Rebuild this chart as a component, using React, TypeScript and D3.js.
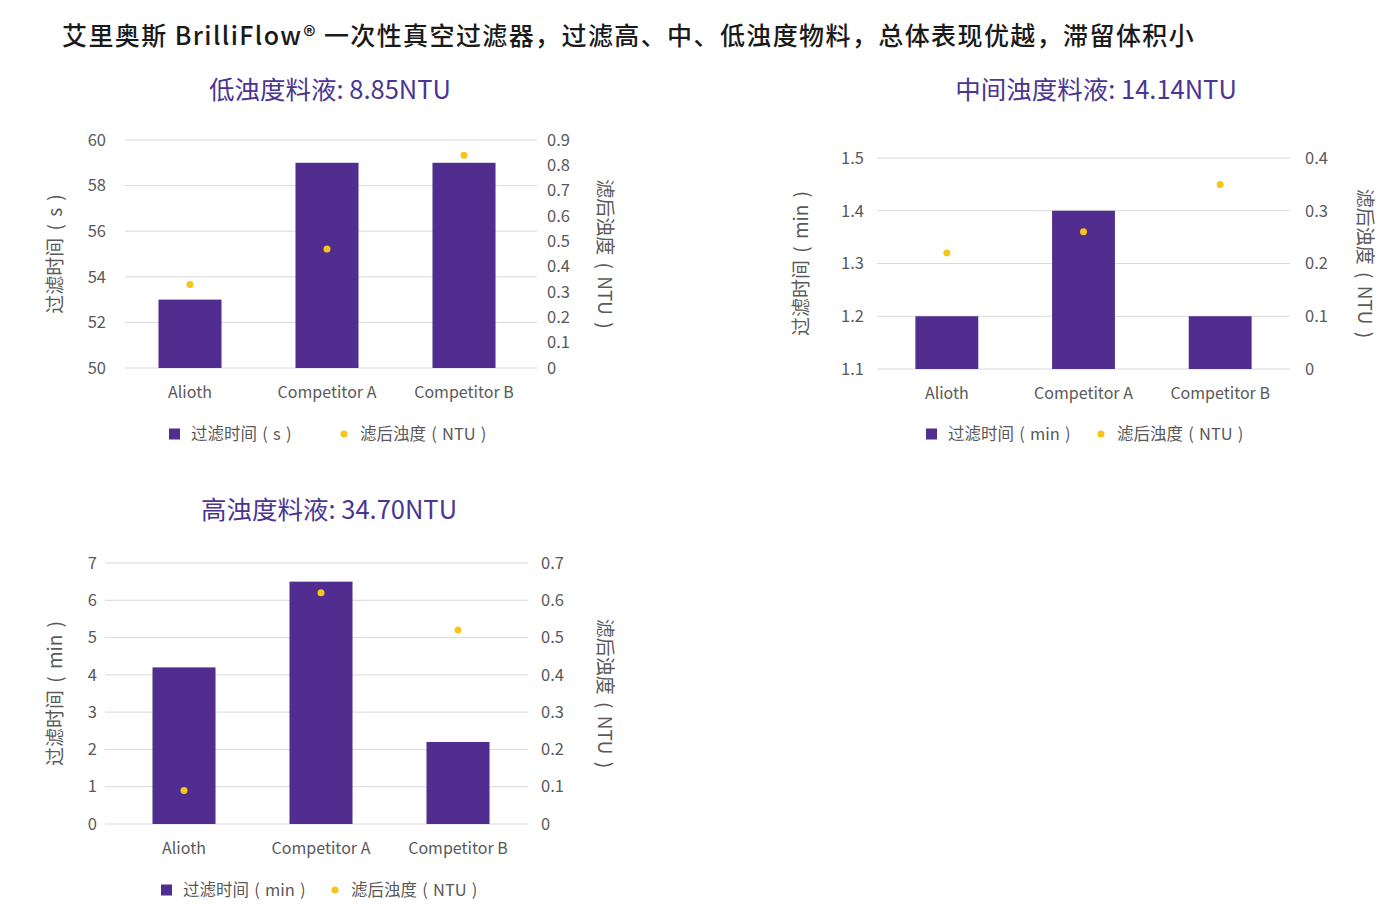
import React from "react";
import * as d3 from "d3";

const categories = ["Alioth", "Competitor A", "Competitor B"];

// 低浊度
const lowTime = [53, 59, 59];
const lowTurb = [0.33, 0.47, 0.84];
// 中间浊度
const midTime = [1.2, 1.4, 1.2];
const midTurb = [0.22, 0.26, 0.35];
// 高浊度
const highTime = [4.2, 6.5, 2.2];
const highTurb = [0.09, 0.62, 0.52];

const lowLeftTicks = [50, 52, 54, 56, 58, 60];
const lowRightTicks = [0, 0.1, 0.2, 0.3, 0.4, 0.5, 0.6, 0.7, 0.8, 0.9];
const midLeftTicks = [1.1, 1.2, 1.3, 1.4, 1.5];
const midRightTicks = [0, 0.1, 0.2, 0.3, 0.4];
const highLeftTicks = [0, 1, 2, 3, 4, 5, 6, 7];
const highRightTicks = [0, 0.1, 0.2, 0.3, 0.4, 0.5, 0.6, 0.7];

const mainTitle = "艾里奥斯 BrilliFlow® 一次性真空过滤器，过滤高、中、低浊度物料，总体表现优越，滞留体积小";

const FONT = "'Noto Sans CJK SC', 'Noto Sans', sans-serif";
const BAR = "#502d8f";
const DOT = "#f5c518";
const PURPLE = "#4b3593";
const GREY = "#595959";

const fmt = (d: number) => (d === 0 ? "0" : String(d));

type Props = {
  title: string;
  unit: string;
  time: number[];
  turb: number[];
  leftTicks: number[];
  rightTicks: number[];
  // layout
  titleX: number;
  titleY: number;
  gridX: [number, number];
  bandX: [number, number];
  yRange: [number, number];
  catY: number;
  legendX: number;
  legendY: number;
  dotLegendX: number;
  leftTitleX: number;
  rightTitleX: number;
  rightLabelX: number;
  leftLabelX: number;
};

const Panel = (p: Props) => {
  const x = d3
    .scaleBand<string>()
    .domain(categories)
    .range(p.bandX)
    .paddingInner(0.54)
    .paddingOuter(0.27);
  const yL = d3
    .scaleLinear()
    .domain([p.leftTicks[0], p.leftTicks[p.leftTicks.length - 1]])
    .range(p.yRange);
  const yR = d3
    .scaleLinear()
    .domain([p.rightTicks[0], p.rightTicks[p.rightTicks.length - 1]])
    .range(p.yRange);
  const midY = (p.yRange[0] + p.yRange[1]) / 2;

  return (
    <g fontFamily={FONT}>
      <text x={p.titleX} y={p.titleY} textAnchor="middle" fontSize={25.5} fill={PURPLE}>
        {p.title}
      </text>
      {p.leftTicks.map((t) => (
        <g key={"l" + t}>
          <line x1={p.gridX[0]} x2={p.gridX[1]} y1={yL(t)} y2={yL(t)} stroke="#d9d9d9" strokeWidth={1} />
          <text x={p.leftLabelX} y={yL(t)} dy="0.35em" textAnchor="end" fontSize={16.5} fill={GREY}>
            {fmt(t)}
          </text>
        </g>
      ))}
      {p.rightTicks.map((t) => (
        <text key={"r" + t} x={p.rightLabelX} y={yR(t)} dy="0.35em" textAnchor="start" fontSize={16.5} fill={GREY}>
          {fmt(t)}
        </text>
      ))}
      {categories.map((c, i) => (
        <g key={c}>
          <rect
            x={x(c)}
            y={yL(p.time[i])}
            width={x.bandwidth()}
            height={p.yRange[0] - yL(p.time[i])}
            fill={BAR}
          />
          <circle cx={(x(c) as number) + x.bandwidth() / 2} cy={yR(p.turb[i])} r={3.5} fill={DOT} />
          <text
            x={(x(c) as number) + x.bandwidth() / 2}
            y={p.catY}
            dy="0.35em"
            textAnchor="middle"
            fontSize={16}
            fill={GREY}
          >
            {c}
          </text>
        </g>
      ))}
      <text
        transform={`translate(${p.leftTitleX},${midY}) rotate(-90)`}
        textAnchor="middle"
        dy="0.35em"
        fontSize={19}
        wordSpacing={3}
        fill={GREY}
      >
        {`过滤时间 ( ${p.unit} )`}
      </text>
      <text
        transform={`translate(${p.rightTitleX},${midY}) rotate(90)`}
        textAnchor="middle"
        dy="0.35em"
        fontSize={19}
        wordSpacing={3}
        fill={GREY}
      >
        滤后浊度 ( NTU )
      </text>
      <rect x={p.legendX} y={p.legendY - 5.5} width={11} height={11} fill={BAR} />
      <text x={p.legendX + 22} y={p.legendY} dy="0.35em" fontSize={16.5} wordSpacing={1.5} fill={GREY}>
        {`过滤时间 ( ${p.unit} )`}
      </text>
      <circle cx={p.dotLegendX} cy={p.legendY} r={3.5} fill={DOT} />
      <text x={p.dotLegendX + 16} y={p.legendY} dy="0.35em" fontSize={16.5} wordSpacing={1.5} fill={GREY}>
        滤后浊度 ( NTU )
      </text>
    </g>
  );
};

export default function App() {
  return (
    <svg width={1400} height={918} style={{ position: "absolute", left: 0, top: 0, background: "#fff" }}>
      <text
        x={62}
        y={36}
        dy="0.35em"
        fontFamily={FONT}
        fontSize={25}
        fontWeight={500}
        letterSpacing={1.4}
        fill="#1a1a1a"
      >
        {mainTitle}
      </text>
      <Panel
        title="低浊度料液: 8.85NTU"
        unit="s"
        time={lowTime}
        turb={lowTurb}
        leftTicks={lowLeftTicks}
        rightTicks={lowRightTicks}
        titleX={330}
        titleY={99}
        gridX={[125, 537]}
        bandX={[121.5, 532.5]}
        yRange={[368, 140]}
        catY={392}
        legendX={169}
        legendY={434}
        dotLegendX={344}
        leftTitleX={55}
        rightTitleX={605}
        rightLabelX={547}
        leftLabelX={106}
      />
      <Panel
        title="中间浊度料液: 14.14NTU"
        unit="min"
        time={midTime}
        turb={midTurb}
        leftTicks={midLeftTicks}
        rightTicks={midRightTicks}
        titleX={1096}
        titleY={99}
        gridX={[877, 1290]}
        bandX={[878.5, 1288.5]}
        yRange={[369, 158]}
        catY={393}
        legendX={926}
        legendY={434}
        dotLegendX={1101}
        leftTitleX={801}
        rightTitleX={1365}
        rightLabelX={1305}
        leftLabelX={864}
      />
      <Panel
        title="高浊度料液: 34.70NTU"
        unit="min"
        time={highTime}
        turb={highTurb}
        leftTicks={highLeftTicks}
        rightTicks={highRightTicks}
        titleX={329}
        titleY={519}
        gridX={[105, 528]}
        bandX={[115.5, 526.5]}
        yRange={[824, 563]}
        catY={848}
        legendX={161}
        legendY={890}
        dotLegendX={335}
        leftTitleX={55}
        rightTitleX={605}
        rightLabelX={541}
        leftLabelX={97}
      />
    </svg>
  );
}
